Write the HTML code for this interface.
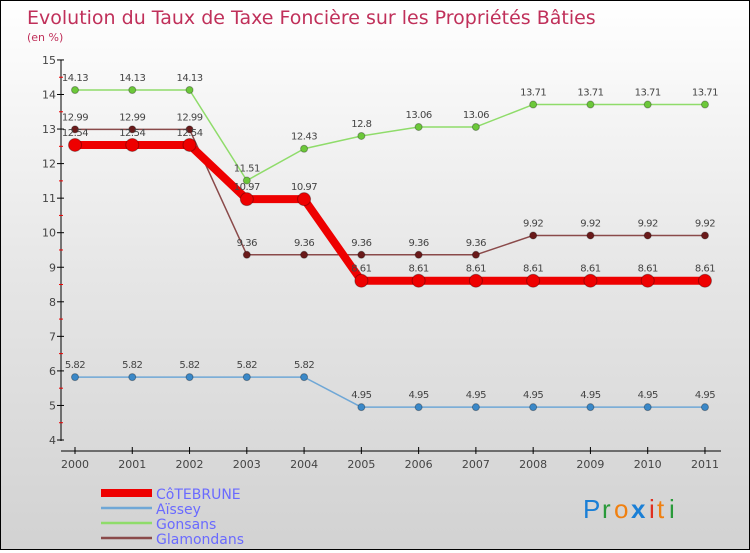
<!DOCTYPE html>
<html><head><meta charset="utf-8"><style>
body{margin:0;width:750px;height:550px;overflow:hidden;font-family:"DejaVu Sans","Liberation Sans",sans-serif}
#wrap{position:relative;width:748px;height:548px;border:1px solid #000;background:linear-gradient(#fff,#fafafa 10%,#e6e6e6 50%,#d2d2d2)}
</style></head><body>
<div id="wrap">
<svg id="chart" width="748" height="548">
<text x="26" y="23" font-size="19" fill="#c0305a">Evolution du Taux de Taxe Foncière sur les Propriétés Bâties</text>
<text x="26" y="40" font-size="11" fill="#c0305a">(en %)</text>
<g id="axes"></g><g id="series"></g><g id="legend"></g>
<g font-size="26" font-family="Liberation Sans,sans-serif">
<text x="582" y="517" fill="#1a7fd6">P</text><text x="601" y="517" fill="#2a9a3a">r</text><text x="613" y="517" fill="#f08010">o</text><text x="630" y="517" fill="#1a7fd6" font-weight="bold">x</text><text x="648" y="517" fill="#e03020">i</text><text x="656" y="517" fill="#f08010">t</text><text x="668" y="517" fill="#2a9a3a">i</text>
</g>
</svg></div>
<script>
const years=[2000,2001,2002,2003,2004,2005,2006,2007,2008,2009,2010,2011];
const yTicks=[4,5,6,7,8,9,10,11,12,13,14,15];
const names=["CôTEBRUNE","Aïssey","Gonsans","Glamondans"];
const coteBrune=[12.54,12.54,12.54,10.97,10.97,8.61,8.61,8.61,8.61,8.61,8.61,8.61];
const aissey=[5.82,5.82,5.82,5.82,5.82,4.95,4.95,4.95,4.95,4.95,4.95,4.95];
const gonsans=[14.13,14.13,14.13,11.51,12.43,12.8,13.06,13.06,13.71,13.71,13.71,13.71];
const glamondans=[12.99,12.99,12.99,9.36,9.36,9.36,9.36,9.36,9.92,9.92,9.92,9.92];
const NS="http://www.w3.org/2000/svg";
const X=i=>74+i*57.27, Y=v=>439-(v-4)*34.55;
function mk(p,t,a){const e=document.createElementNS(NS,t);for(const k in a)e.setAttribute(k,a[k]);p.appendChild(e);return e;}
const ax=document.getElementById('axes');
const yl=mk(ax,'line',{x1:60,y1:59,x2:60,y2:440,stroke:'#000'});


yTicks.forEach(v=>{
 mk(ax,'line',{x1:56,x2:63,y1:Y(v),y2:Y(v),stroke:'#000'});
 if(v<15)mk(ax,'line',{x1:58,x2:62,y1:Y(v+0.5),y2:Y(v+0.5),stroke:'#e00'});
 const t=mk(ax,'text',{x:55,y:Y(v)+4,'text-anchor':'end','font-size':11,fill:'#444'});t.textContent=v;
 
 
});
const xl=mk(ax,'line',{x1:60,y1:450,x2:720,y2:450,stroke:'#000'});


years.forEach((y,i)=>{
 mk(ax,'line',{x1:X(i),x2:X(i),y1:446,y2:453,stroke:'#000'});
 const t=mk(ax,'text',{x:X(i),y:467,'text-anchor':'middle','font-size':11,fill:'#444'});t.textContent=y;
 
 
});
const sg=document.getElementById('series');
function draw(vals,color,dot,w,r,name,labOff){
 const g=mk(sg,'g',{});
 
 
 mk(g,'polyline',{points:vals.map((v,i)=>X(i)+','+Y(v)).join(' '),fill:'none',stroke:color,'stroke-width':w,'stroke-linejoin':'round'});
 vals.forEach((v,i)=>{
  const c=mk(g,'circle',{cx:X(i),cy:Y(v),r:r,fill:dot,stroke:'rgba(0,0,0,0.3)'});
  
  
  const t=mk(g,'text',{x:X(i),y:Y(v)-labOff,'text-anchor':'middle','font-size':10,fill:'#444','letter-spacing':'-0.5'});t.textContent=v;
  
  
 });
}
draw(aissey,'#6fa7d6','#3a88c8',1.5,3.5,'series-aissey',9);
draw(gonsans,'#8fdc6a','#6cc83a',1.5,3.5,'series-gonsans',9);
draw(glamondans,'#8a4a4a','#6a1a1a',1.5,3.5,'series-glamondans',9);
draw(coteBrune,'#ee0000','#ee0000',8,6.5,'series-cotebrune',9);
const lg=document.getElementById('legend');
const cols=['#ee0000','#6fa7d6','#8fdc6a','#8a4a4a'],ws=[8,2.5,2.5,2.5];
names.forEach((n,i)=>{
 const y=496+i*15;
 const g=mk(lg,'g',{});
 
 
 mk(g,'line',{x1:100,x2:151,y1:y-4,y2:y-4,stroke:cols[i],'stroke-width':ws[i]});
 const t=mk(g,'text',{x:155,y:y+2,'font-size':14,fill:'#6a6aff'});t.textContent=n;
});
</script>
</body></html>
